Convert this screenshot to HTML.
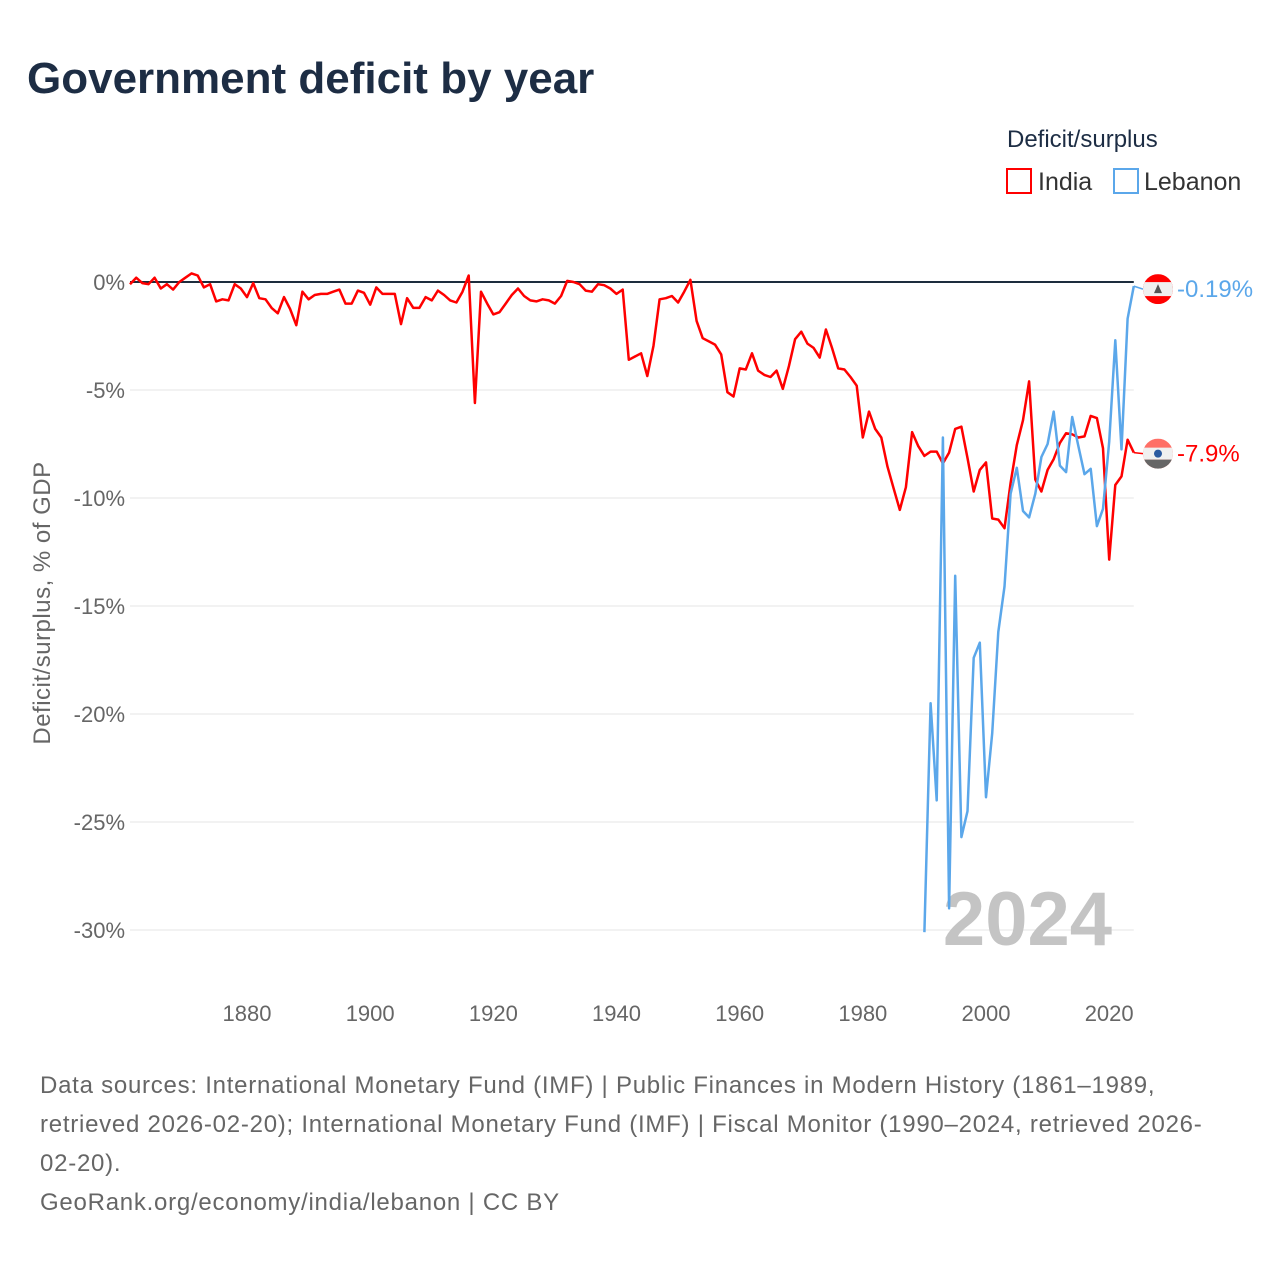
<!DOCTYPE html>
<html><head><meta charset="utf-8">
<style>
body{margin:0;background:#fff;width:1280px;height:1280px;overflow:hidden;font-family:"Liberation Sans",sans-serif;}
svg text{font-family:"Liberation Sans",sans-serif;}
</style></head>
<body>
<svg id="chart" width="1280" height="1280" viewBox="0 0 1280 1280">
<text x="27" y="93" font-size="44" font-weight="bold" fill="#1d2d44">Government deficit by year</text>
<g>
<text x="1007" y="147" font-size="24" fill="#1d2d44">Deficit/surplus</text>
<g>
<rect x="1007" y="169" width="24" height="24" fill="none" stroke="#ff0000" stroke-width="2"/>
<text x="1038" y="190" font-size="25" fill="#333">India</text></g>
<g>
<rect x="1114" y="169" width="24" height="24" fill="none" stroke="#5ba7ea" stroke-width="2"/>
<text x="1144" y="190" font-size="25" fill="#333">Lebanon</text></g>
</g>
<g id="grid"></g>
<g id="yticks"></g>
<g id="xticks"></g>
<text transform="translate(50,603) rotate(-90)" text-anchor="middle" font-size="24" letter-spacing="0.5" fill="#666">Deficit/surplus, % of GDP</text>
<text x="1112" y="945" text-anchor="end" font-size="76" font-weight="bold" fill="#c4c4c4">2024</text>
<g id="series"></g>
<g id="endlabels"></g>
<g font-size="24" fill="#666" letter-spacing="0.75">
<text x="40" y="1093">Data sources: International Monetary Fund (IMF) | Public Finances in Modern History (1861–1989,</text>
<text x="40" y="1132">retrieved 2026-02-20); International Monetary Fund (IMF) | Fiscal Monitor (1990–2024, retrieved 2026-</text>
<text x="40" y="1171">02-20).</text>
<text x="40" y="1210">GeoRank.org/economy/india/lebanon | CC BY</text>
</g>
</svg>
<script>
const indiaStartYear = 1861;
const indiaValues = [-0.1,0.2,-0.05,-0.1,0.2,-0.3,-0.1,-0.35,0,0.2,0.4,0.3,-0.25,-0.1,-0.9,-0.8,-0.85,-0.1,-0.3,-0.7,
-0.05,-0.75,-0.8,-1.2,-1.45,-0.7,-1.25,-2.0,-0.45,-0.8,-0.6,-0.55,-0.55,-0.45,-0.35,-1.0,-1.0,-0.4,-0.5,-1.05,
-0.25,-0.55,-0.55,-0.55,-1.95,-0.75,-1.2,-1.2,-0.7,-0.85,-0.4,-0.6,-0.85,-0.95,-0.45,0.3,-5.6,-0.45,-1.0,-1.5,
-1.4,-1.0,-0.6,-0.3,-0.65,-0.85,-0.9,-0.8,-0.85,-1.0,-0.65,0.05,0,-0.1,-0.4,-0.45,-0.1,-0.15,-0.3,-0.55,
-0.35,-3.6,-3.45,-3.3,-4.35,-2.95,-0.8,-0.75,-0.65,-0.95,-0.45,0.1,-1.8,-2.6,-2.75,-2.9,-3.35,-5.1,-5.3,-4.0,
-4.05,-3.3,-4.1,-4.3,-4.4,-4.1,-4.95,-3.9,-2.65,-2.3,-2.85,-3.05,-3.5,-2.2,-3.05,-4.0,-4.05,-4.4,-4.8,-7.2,
-6.0,-6.8,-7.2,-8.55,-9.55,-10.55,-9.5,-6.95,-7.6,-8.05,-7.85,-7.85,-8.4,-7.9,-6.8,-6.7,-8.15,-9.7,-8.7,-8.35,
-10.95,-11.0,-11.4,-9.3,-7.55,-6.4,-4.6,-9.15,-9.7,-8.7,-8.2,-7.45,-7.0,-7.05,-7.2,-7.15,-6.2,-6.3,-7.7,-12.85,
-9.4,-9.0,-7.3,-7.9];
const lebanonStartYear = 1990;
const lebanonValues = [-30.1,-19.5,-24.0,-7.2,-29.0,-13.6,-25.7,-24.5,-17.4,-16.7,-23.85,-20.9,-16.2,-14.1,-9.8,
-8.6,-10.6,-10.9,-9.8,-8.1,-7.5,-6.0,-8.5,-8.8,-6.25,-7.6,-8.9,-8.65,-11.3,-10.5,-7.4,-2.7,-7.75,-1.7,-0.19];
const yTicks = [0,-5,-10,-15,-20,-25,-30];
const xTicks = [1880,1900,1920,1940,1960,1980,2000,2020];
const indiaLabel = "-7.9%";
const lebanonLabel = "-0.19%";

const NS="http://www.w3.org/2000/svg";
const X0=130,X1=1133.8,Y0=1861,Y1=2024;
function xs(yr){return X0+(yr-Y0)*(X1-X0)/(Y1-Y0);}
function ys(v){return 282-v*21.6;}
function mk(tag,attrs,parent){const e=document.createElementNS(NS,tag);for(const k in attrs)e.setAttribute(k,attrs[k]);parent.appendChild(e);return e;}
const grid=document.getElementById('grid'),yt=document.getElementById('yticks'),xt=document.getElementById('xticks');
yTicks.forEach(t=>{
  if(t!==0){const l=mk('line',{x1:X0,x2:X1,y1:ys(t),y2:ys(t),stroke:'#e6e6e6','stroke-width':1},grid);
  
  }
  const tx=mk('text',{x:125,y:ys(t)+8,'text-anchor':'end','font-size':22,fill:'#666'},yt);
  tx.textContent=t+'%';
  
  
});
xTicks.forEach(t=>{
  const tx=mk('text',{x:xs(t),y:1021,'text-anchor':'middle','font-size':22,fill:'#666'},xt);
  tx.textContent=t;
  
  
});
const zl=mk('line',{x1:X0,x2:X1,y1:ys(0),y2:ys(0),stroke:'#1d2d3d','stroke-width':2},grid);


const ser=document.getElementById('series');
function path(vals,start,color,name){
  const d=vals.map((v,i)=>(i?'L':'M')+xs(start+i).toFixed(1)+','+ys(v).toFixed(1)).join('');
  const p=mk('path',{d:d,fill:'none',stroke:color,'stroke-width':2.5,'stroke-linejoin':'round'},ser);
  
  
}
path(indiaValues,indiaStartYear,'#ff0000','india-line');
path(lebanonValues,lebanonStartYear,'#5ba7ea','lebanon-line');
const el=document.getElementById('endlabels');
const lbY=ys(lebanonValues[lebanonValues.length-1])+3, inY=ys(indiaValues[indiaValues.length-1])+1;
mk('line',{x1:X1,x2:1143,y1:lbY-3,y2:lbY,stroke:'#5ba7ea','stroke-width':1.5},el);
mk('line',{x1:X1,x2:1143,y1:inY-1,y2:inY,stroke:'#ff0000','stroke-width':1.5},el);
const fl=mk('g',{},el);


const c1=mk('clipPath',{id:'c1'},fl);
mk('circle',{cx:1158,cy:lbY,r:15},c1);
mk('rect',{x:1143,y:lbY-15,width:30,height:30,fill:'#f00','clip-path':'url(#c1)'},fl);
mk('rect',{x:1143,y:lbY-7,width:30,height:14,fill:'#f0f0f0','clip-path':'url(#c1)'},fl);
mk('polygon',{points:`1158,${lbY-5} 1154,${lbY+4} 1162,${lbY+4}`,fill:'#555'},fl);
const flagIn=mk('g',{},el);


const c2=mk('clipPath',{id:'c2'},flagIn);
mk('circle',{cx:1158,cy:inY,r:15},c2);
mk('rect',{x:1143,y:inY-15,width:30,height:30,fill:'#ff6f66','clip-path':'url(#c2)'},flagIn);
mk('rect',{x:1143,y:inY-6,width:30,height:12,fill:'#f0f0f0','clip-path':'url(#c2)'},flagIn);
mk('rect',{x:1143,y:inY+6,width:30,height:10,fill:'#666','clip-path':'url(#c2)'},flagIn);
mk('circle',{cx:1158,cy:inY,r:4,fill:'#2a5aa0'},flagIn);
const t1=mk('text',{x:1177,y:lbY+8,'font-size':24,fill:'#5ba7ea'},el);
t1.textContent=lebanonLabel;


const t2=mk('text',{x:1177,y:inY+8,'font-size':24,fill:'#ff0000'},el);
t2.textContent=indiaLabel;


</script>
</body></html>
